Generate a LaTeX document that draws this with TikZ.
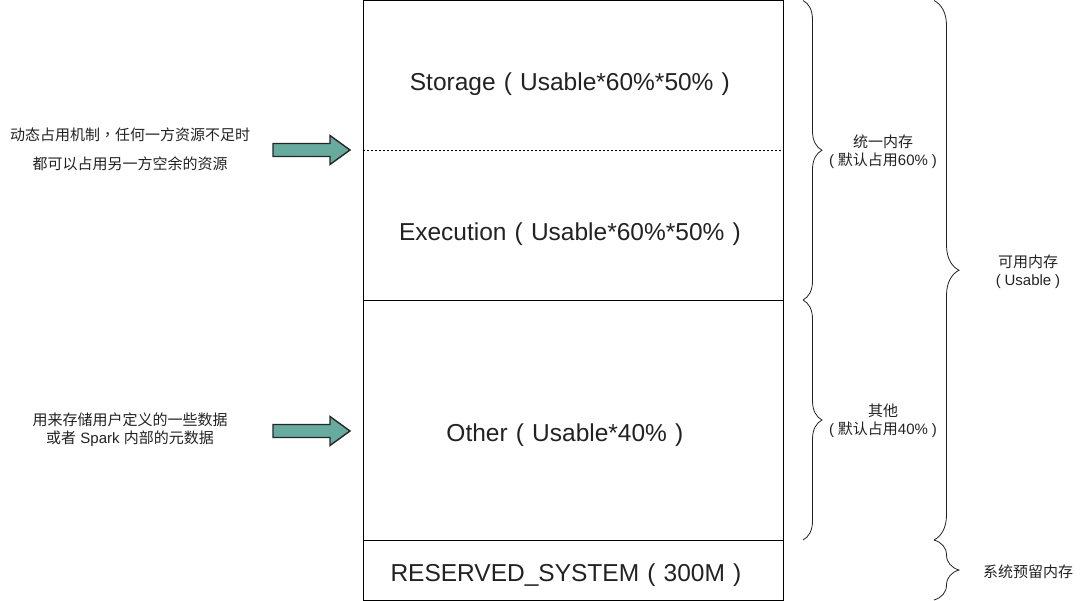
\documentclass[tikz,border=0pt]{standalone}
\usepackage{fontspec}
\setmainfont{Liberation Sans}
\newfontfamily\cjk{Noto Sans CJK SC}
\newfontfamily\cjkp{Noto Sans CJK TC}
\newcommand{\lp}{\makebox[1em][c]{(}}
\newcommand{\rp}{\makebox[1em][c]{)}}
\newcommand{\slp}{\makebox[0.85em][c]{(}}
\newcommand{\srp}{\makebox[0.85em][c]{)}}
\usetikzlibrary{decorations.pathreplacing}
\definecolor{arrowfill}{HTML}{67AB9F}
\definecolor{txt}{HTML}{222222}
\begin{document}
\begin{tikzpicture}[x=1pt,y=-1pt,
  big/.style={font=\fontsize{24.5}{28}\selectfont, text=txt, inner sep=0pt, anchor=base},
  small/.style={font=\fontsize{15}{18}\selectfont, text=txt, inner sep=0pt, align=center},
  bracestyle/.style={draw=txt, line width=0.8pt, decorate, decoration={brace, amplitude=19pt, aspect=0.5}},
  blockarrow/.style={draw=black!85, line width=1.4pt, fill=arrowfill},
  region/.style={draw=black, line width=0.8pt}]
\useasboundingbox (0,0) rectangle (1084,601);
% main box
\draw[region] (363,0.5) rectangle (783,600);
\draw[region, dashed, dash pattern=on 2pt off 2pt, line width=0.6pt] (363,150) -- (783,150);
\draw[region] (363,300) -- (783,300);
\draw[region] (363,540) -- (783,540);
% main labels
\node[big] (storage) at (574,91) {Storage\lp Usable*60\%*50\%\rp};
\node[big] (exec) at (574,241) {Execution\lp Usable*60\%*50\%\rp};
\node[big] (other) at (569,441) {Other\lp Usable*40\%\rp};
\node[big] (reserved) at (570,581) {RESERVED\_SYSTEM\lp 300M\rp};
% braces
\coordinate (b1t) at (803,0.5);  \coordinate (b1b) at (803,300);
\coordinate (b2t) at (803,300);  \coordinate (b2b) at (803,540);
\coordinate (b3t) at (934,0.5);  \coordinate (b3b) at (934,540);
\coordinate (b4t) at (934,540);  \coordinate (b4b) at (934,600);
\draw[bracestyle] (b1t) -- (b1b);
\draw[bracestyle] (b2t) -- (b2b);
\draw[bracestyle, decoration={brace, amplitude=25pt, aspect=0.5}] (b3t) -- (b3b);
\draw[bracestyle, decoration={brace, amplitude=25pt, aspect=0.5}] (b4t) -- (b4b);
% brace labels
\node[small] (unified) at (883,152) {{\cjk 统一内存}\\\slp{\cjk 默认占用}60\%\srp};
\node[small] (others) at (883,421) {{\cjk 其他}\\\slp{\cjk 默认占用}40\%\srp};
\node[small] (usable) at (1028,272) {{\cjk 可用内存}\\\slp Usable\srp};
\node[small] (sysres) at (1028,572) {\cjk 系统预留内存};
% left notes
\node[small] (note1a) at (130,135) {{\cjk 动态占用机制}{\cjkp ，}{\cjk 任何一方资源不足时}};
\node[small] (note1b) at (130,164) {\cjk 都可以占用另一方空余的资源};
\node[small] (note2) at (130,430) {{\cjk 用来存储用户定义的一些数据}\\{\cjk 或者} Spark {\cjk 内部的元数据}};
% block arrows
\foreach \yy/\nm in {150/arrA, 431/arrB}{
  \draw[blockarrow] (273,\yy-6.5) -- (330,\yy-6.5) -- (330,\yy-14.5) -- (350,\yy) -- (330,\yy+14.5) -- (330,\yy+6.5) -- (273,\yy+6.5) -- cycle;
}
\end{tikzpicture}
\end{document}
